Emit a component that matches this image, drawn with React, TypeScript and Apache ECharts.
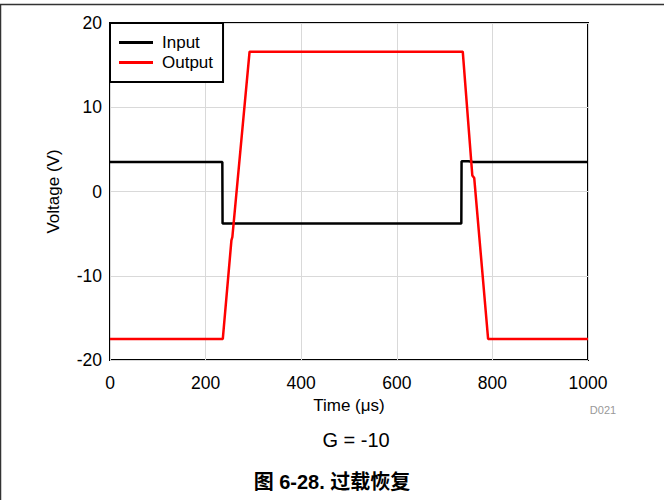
import React, { useEffect, useRef } from "react";
import * as echarts from "echarts";

const inputData: [number, number][] = [
  [0, 3.5], [235, 3.5], [235.5, -3.8], [300, -3.8], [735, -3.8], [735.5, 3.6],
  [750, 3.6], [760, 3.5], [1000, 3.5],
];
const outputData: [number, number][] = [
  [0, -17.5], [236, -17.5], [254, -5.8], [256, -5.4], [292, 16.6], [738, 16.6],
  [758, 1.9], [762, 1.6], [791, -17.5], [1000, -17.5],
];
const seriesNames = ["Input", "Output"];
const xTicks = { min: 0, max: 1000, interval: 200 };
const yTicks = { min: -20, max: 20, interval: 10 };

const FONT = "'Liberation Sans', Arial, sans-serif";

export default function App() {
  const ref = useRef<HTMLDivElement>(null);
  useEffect(() => {
    const chart = echarts.init(ref.current!, undefined, { renderer: "svg" });
    chart.setOption({
      animation: false,
      backgroundColor: "#fff",
      textStyle: { fontFamily: FONT },
      grid: {
        left: 110, top: 23, width: 478, height: 337,
        show: true, borderColor: "#000", borderWidth: 2, containLabel: false,
      },
      legend: {
        data: seriesNames,
        orient: "vertical",
        left: 110, top: 23,
        padding: [11, 10, 11, 9],
        itemGap: 3,
        itemWidth: 34, itemHeight: 3,
        icon: "rect",
        backgroundColor: "#fff",
        borderColor: "#000", borderWidth: 2,
        textStyle: { fontFamily: FONT, fontSize: 17, color: "#000", padding: [0, 0, 0, 4] },
        z: 10,
      },
      xAxis: {
        type: "value",
        ...xTicks,
        name: "Time (μs)",
        nameLocation: "middle",
        nameGap: 35,
        nameTextStyle: { fontFamily: FONT, fontSize: 17, color: "#000" },
        axisLine: { show: false },
        axisTick: { show: false },
        axisLabel: { fontFamily: FONT, fontSize: 17.5, color: "#000", margin: 14, formatter: (v: number) => String(v) },
        splitLine: { show: true, lineStyle: { color: "#d9d9d9", width: 1 } },
      },
      yAxis: {
        type: "value",
        ...yTicks,
        name: "Voltage (V)",
        nameLocation: "middle",
        nameGap: 48,
        nameTextStyle: { fontFamily: FONT, fontSize: 17, color: "#000" },
        axisLine: { show: false },
        axisTick: { show: false },
        axisLabel: { fontFamily: FONT, fontSize: 17.5, color: "#000", margin: 8 },
        splitLine: { show: true, lineStyle: { color: "#d9d9d9", width: 1 } },
      },
      series: [
        {
          name: seriesNames[0], type: "line", data: inputData, showSymbol: false,
          lineStyle: { color: "#000", width: 2.5 }, itemStyle: { color: "#000" }, z: 3,
        },
        {
          name: seriesNames[1], type: "line", data: outputData, showSymbol: false,
          lineStyle: { color: "#ff0000", width: 2.5 }, itemStyle: { color: "#ff0000" }, z: 4,
        },
      ],
      graphic: [
        { type: "line", shape: { x1: 0, y1: 4.5, x2: 664, y2: 4.5 }, style: { stroke: "#333", lineWidth: 1.5 } },
        { type: "line", shape: { x1: 0.5, y1: 4, x2: 0.5, y2: 500 }, style: { stroke: "#333", lineWidth: 1.5 } },
        {
          type: "text", x: 603, y: 410,
          style: { text: "D021", fontFamily: FONT, fontSize: 11, fill: "#999", align: "center", verticalAlign: "middle" },
        },
        {
          type: "text", x: 356, y: 440,
          style: { text: "G = -10", fontFamily: FONT, fontSize: 20, fill: "#000", align: "center", verticalAlign: "middle" },
        },
        {
          type: "text", x: 332, y: 482,
          style: {
            text: "图 6-28. 过载恢复", fontFamily: "'Liberation Sans', 'Noto Sans CJK SC', sans-serif",
            fontSize: 20, fontWeight: "bold", fill: "#000", align: "center", verticalAlign: "middle",
          },
        },
      ],
    });
    return () => chart.dispose();
  }, []);
  return (
    <div
      ref={ref}
      style={{ position: "fixed", left: 0, top: 0, width: 664, height: 500 }}
    />
  );
}
